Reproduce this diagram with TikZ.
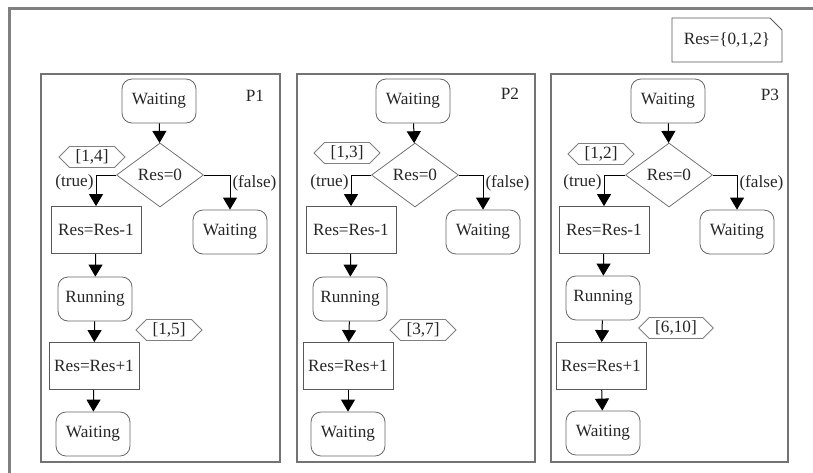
\documentclass[tikz,border=0pt]{standalone}
\usepackage{fontspec}
\setmainfont{Liberation Serif}
\usepackage{tikz}
\usetikzlibrary{arrows.meta,shapes.geometric,shapes.symbols,shapes.misc}

\tikzset{
  every node/.style={font=\fontsize{8.6}{10}\selectfont, text=black!85},
  waitbox/.style={draw=black!60, rounded corners=5pt, minimum width=37pt, minimum height=22pt, inner sep=1pt},
  actbox/.style={draw=black!65, minimum width=45pt, minimum height=23.5pt, inner sep=1pt},
  testbox/.style={diamond, draw=black!55, minimum width=43.5pt, minimum height=32pt, inner sep=0pt},
  rangebox/.style={signal, signal to=west and east, draw=black!50, minimum height=10.5pt, inner xsep=3pt, inner ysep=0.5pt},
  notebox/.style={chamfered rectangle, chamfered rectangle corners=north east, chamfered rectangle xsep=3pt, chamfered rectangle ysep=3pt, draw=black!65, minimum width=55pt, minimum height=22pt, inner sep=1pt},
  flow/.style={-{Triangle[width=7pt,length=6pt]}, draw=black, line width=0.5pt},
  panel/.style={draw=black!55, line width=0.8pt},
}

\begin{document}
\begin{tikzpicture}[x=0.5pt, y=-0.5pt]
    \useasboundingbox (0,0) rectangle (813,472);
    \begin{scope}
      \clip (0,0) rectangle (813,472);
      \draw[black!50, line width=1.1pt] (9.5,480) -- (9.5,8.5) -- (820,8.5);
    \end{scope}

    \node[notebox] (N) at (727,40) {Res=\{0,1,2\}};

    % P1
    \draw[panel] (41,74) rectangle (280,462);
    \node (P1) at (255,96) {P1};
    \node[waitbox] (W1a) at (159,101) {Waiting};
    \node[testbox] (D1) at (160,175) {Res=0};
    \node[rangebox] (R1a) at (92,157) {[1,4]};
    \node[actbox] (A1a) at (96,230) {Res=Res-1};
    \node[waitbox] (W1b) at (230,232) {Waiting};
    \node[waitbox] (U1) at (95,299) {Running};
    \node[rangebox] (R1b) at (169,330) {[1,5]};
    \node[actbox] (A1b) at (94,366) {Res=Res+1};
    \node[waitbox] (W1c) at (93,434) {Waiting};

    \draw[flow] (W1a) -- (D1);
    \draw[flow] (D1.west) -| node[pos=0.62, left, inner sep=1pt]{(true)} (A1a.north);
    \draw[flow] (D1.east) -| node[pos=0.62, right, inner sep=1pt]{(false)} (W1b.north);
    \draw[flow] (A1a) -- (U1);
    \draw[flow] (U1) -- (A1b);
    \draw[flow] (A1b) -- (W1c);

    % P2
    \draw[panel] (297,74) rectangle (535,462);
    \node (P2) at (510,94) {P2};
    \node[waitbox] (W2a) at (413,101) {Waiting};
    \node[testbox] (D2) at (415,175) {Res=0};
    \node[rangebox] (R2a) at (347,153) {[1,3]};
    \node[actbox] (A2a) at (351,230) {Res=Res-1};
    \node[waitbox] (W2b) at (483,232) {Waiting};
    \node[waitbox] (U2) at (350,299) {Running};
    \node[rangebox] (R2b) at (423,330) {[3,7]};
    \node[actbox] (A2b) at (348,366) {Res=Res+1};
    \node[waitbox] (W2c) at (348,434) {Waiting};

    \draw[flow] (W2a) -- (D2);
    \draw[flow] (D2.west) -| node[pos=0.62, left, inner sep=1pt]{(true)} (A2a.north);
    \draw[flow] (D2.east) -| node[pos=0.62, right, inner sep=1pt]{(false)} (W2b.north);
    \draw[flow] (A2a) -- (U2);
    \draw[flow] (U2) -- (A2b);
    \draw[flow] (A2b) -- (W2c);

    % P3
    \draw[panel] (551,74) rectangle (788,462);
    \node (P3) at (770,95) {P3};
    \node[waitbox] (W3a) at (668,101) {Waiting};
    \node[testbox] (D3) at (669,175) {Res=0};
    \node[rangebox] (R3a) at (601,154) {[1,2]};
    \node[actbox] (A3a) at (604,230) {Res=Res-1};
    \node[waitbox] (W3b) at (737,232) {Waiting};
    \node[waitbox] (U3) at (603,298) {Running};
    \node[rangebox] (R3b) at (676,328) {[6,10]};
    \node[actbox] (A3b) at (601,366) {Res=Res+1};
    \node[waitbox] (W3c) at (603,433) {Waiting};

    \draw[flow] (W3a) -- (D3);
    \draw[flow] (D3.west) -| node[pos=0.62, left, inner sep=1pt]{(true)} (A3a.north);
    \draw[flow] (D3.east) -| node[pos=0.62, right, inner sep=1pt]{(false)} (W3b.north);
    \draw[flow] (A3a) -- (U3);
    \draw[flow] (U3) -- (A3b);
    \draw[flow] (A3b) -- (W3c);
\end{tikzpicture}
\end{document}
